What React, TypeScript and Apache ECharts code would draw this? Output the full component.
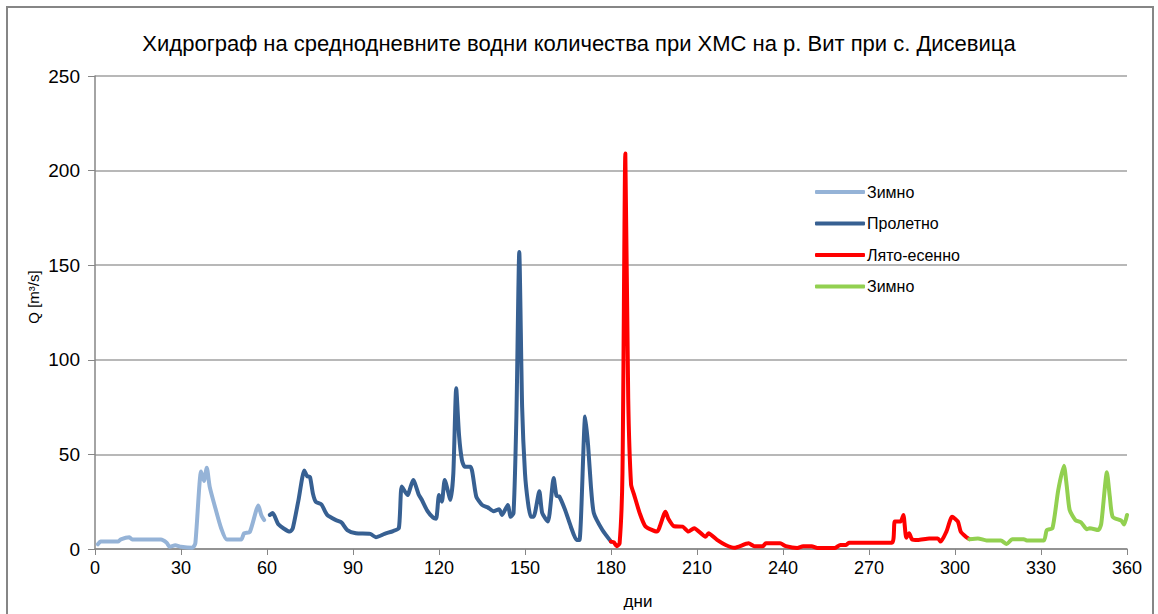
import React, { useEffect, useRef } from "react";
import * as echarts from "echarts";

const titleText = "Хидрограф на среднодневните водни количества при ХМС на р. Вит при с. Дисевица";
const xAxisName = "дни";
const yAxisName = "Q [m³/s]";

const seriesNames = ["Зимно", "Пролетно", "Лято-есенно", "Зимно "];

const winter1Days = [1, 2, 8, 9, 12, 13, 23, 25, 26, 28, 30, 34, 35, 37, 38, 39, 40, 42, 44, 46, 51, 52, 54, 57, 58, 59];
const winter1Q = [2.5, 3.9, 3.9, 5.1, 6.2, 5, 5, 3.3, 1.2, 2, 1.2, 0.7, 3, 41, 36, 43, 33, 21.5, 11, 5, 5, 8.3, 9, 23, 18, 15.3];

const springDays = [61, 62, 64, 68, 69, 71, 73, 74, 75, 76, 77, 79, 81, 84, 86, 88, 91, 96, 98, 101, 104, 106, 107, 109, 111, 113, 114, 116, 118, 119, 120, 121, 122, 124, 125, 126, 127, 128, 129, 131, 133, 135, 137, 139, 141, 142, 144, 145, 146, 147, 148, 149, 150, 151, 152, 153, 155, 156, 158, 160, 161, 162, 164, 166, 168, 169, 171, 172, 173, 174, 177, 180];
const springQ = [18, 19, 13, 9.2, 11, 26, 41.5, 38.5, 38, 29.4, 25, 23.5, 18, 15.3, 14, 10, 8.3, 8, 6.2, 8, 9.5, 11, 33, 28.5, 36.5, 28.5, 26, 20, 16.5, 16, 28.5, 25, 36.5, 26, 40, 85, 60, 47, 43.5, 43.5, 27.7, 23.3, 22, 20, 21, 18, 23.3, 17, 19, 70, 157, 75, 40, 25, 17, 17, 30.5, 19, 14.5, 37.5, 28, 27.7, 20.6, 11.8, 4.8, 4.8, 70, 55, 33, 19, 10, 3.9];

const summerDays = [180, 181, 182, 183, 184, 185, 186, 187, 188, 190, 192, 196, 199, 200, 202, 205, 207, 209, 213, 214, 217, 220, 223, 228, 230, 233, 234, 239, 241, 245, 247, 250, 252, 258, 260, 262, 263, 278, 279, 281, 282, 283, 284, 285, 287, 291, 294, 295, 297, 299, 301, 302, 304, 305];
const summerQ = [3.9, 3.5, 1.5, 3, 40, 209, 80, 34, 29, 19, 12, 9.2, 19.7, 16, 12, 11.8, 9.2, 11, 6.5, 8.3, 4.8, 2.1, 0.6, 3, 1.5, 1.5, 3, 3, 1.5, 0.5, 1.5, 1.5, 0.5, 0.5, 2.1, 2.1, 3.3, 3.3, 14.5, 14.5, 18, 6, 8.3, 5.1, 4.8, 5.6, 5.6, 3.9, 9.2, 17, 14.5, 9.2, 6.2, 5.2];

const winter2Days = [305, 308, 311, 316, 318, 320, 324, 325, 331, 332, 334, 336, 338, 339, 340, 342, 344, 346, 347, 350, 351, 353, 354, 355, 358, 359, 360];
const winter2Q = [5.2, 5.6, 4.5, 4.5, 2.6, 5.2, 5.2, 4.5, 4.5, 10, 11, 31, 44, 33, 20.6, 15.3, 14, 10.4, 11, 10, 13.2, 40.5, 27.7, 17, 15, 13, 18];

const seriesColors = ["#95B3D7", "#376092", "#FF0000", "#92D050"];

const pairs = (d: number[], q: number[]) => d.map((x, i) => [x, q[i]]);

const FONT = "'Liberation Sans', Arial, sans-serif";

export default function App() {
  const ref = useRef<HTMLDivElement>(null);
  useEffect(() => {
    if (!ref.current) return;
    const chart = echarts.init(ref.current, undefined, { renderer: "svg" });
    const data = [
      pairs(winter1Days, winter1Q),
      pairs(springDays, springQ),
      pairs(summerDays, summerQ),
      pairs(winter2Days, winter2Q),
    ];
    chart.setOption({
      animation: false,
      backgroundColor: "#ffffff",
      textStyle: { fontFamily: FONT },
      title: {
        text: titleText,
        left: "center",
        top: 27,
        textStyle: { fontSize: 22, fontWeight: "normal", color: "#000", fontFamily: FONT },
      },
      graphic: [
        {
          type: "rect",
          shape: { x: 7, y: 7, width: 1146, height: 640 },
          style: { fill: "none", stroke: "#868686", lineWidth: 2 },
          silent: true,
        },
        {
          type: "text",
          x: 33,
          y: 297,
          rotation: Math.PI / 2,
          style: {
            text: yAxisName,
            fontSize: 15,
            fontFamily: FONT,
            fill: "#000",
            align: "center",
            verticalAlign: "middle",
          },
        },
        {
          type: "text",
          x: 638,
          y: 601,
          style: {
            text: xAxisName,
            fontSize: 17,
            fontFamily: FONT,
            fill: "#000",
            align: "center",
            verticalAlign: "middle",
          },
        },
      ],
      legend: {
        orient: "vertical",
        left: 810,
        top: 179,
        itemWidth: 50,
        itemHeight: 4,
        itemGap: 15.5,
        icon: "roundRect",
        formatter: (name: string) => name.trim(),
        textStyle: { fontSize: 16, color: "#000", fontFamily: FONT, padding: [0, 0, 0, -3] },
        data: seriesNames,
      },
      grid: { left: 95, right: 31, top: 76, bottom: 65 },
      xAxis: {
        type: "value",
        min: 0,
        max: 360,
        interval: 30,
        axisLine: { lineStyle: { color: "#868686", width: 1.5 } },
        axisTick: { show: true, length: 6, lineStyle: { color: "#868686" } },
        axisLabel: { fontSize: 18, color: "#000", margin: 10, fontFamily: FONT },
        splitLine: { show: false },
      },
      yAxis: {
        type: "value",
        min: 0,
        max: 250,
        interval: 50,
        axisLine: { show: true, lineStyle: { color: "#868686", width: 1.5 } },
        axisTick: { show: true, length: 7, lineStyle: { color: "#868686" } },
        axisLabel: { fontSize: 19, color: "#000", margin: 15, fontFamily: FONT },
        splitLine: { show: true, lineStyle: { color: "#a0a0a0", width: 1.5 } },
      },
      series: seriesNames.map((name, i) => ({
        name,
        type: "line",
        data: data[i],
        showSymbol: false,
        symbol: "none",
        smooth: 0.2,
        color: seriesColors[i],
        lineStyle: { color: seriesColors[i], width: 4, cap: "round", join: "round" },
      })),
    });
    return () => chart.dispose();
  }, []);
  return (
    <div
      ref={ref}
      style={{ position: "fixed", left: 0, top: 0, width: 1158, height: 614, background: "#fff" }}
    />
  );
}
